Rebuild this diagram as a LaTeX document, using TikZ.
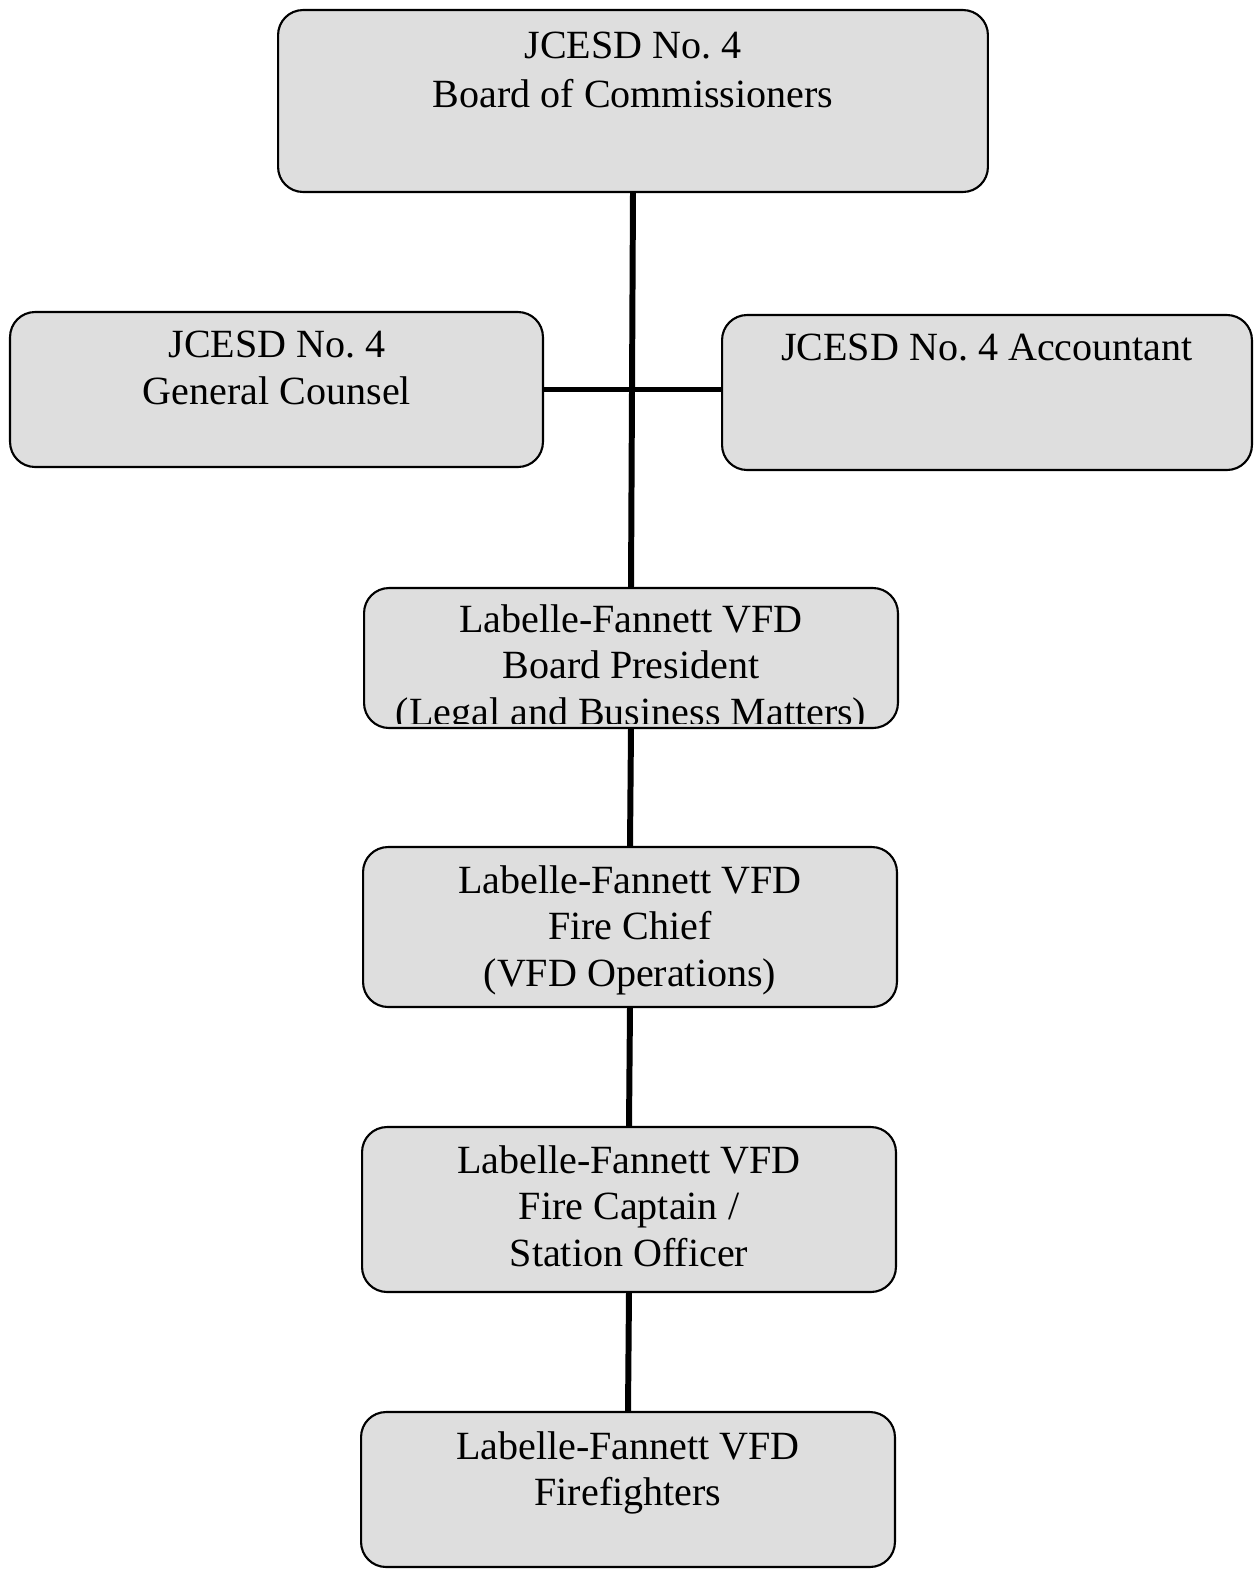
\documentclass[tikz,border=0pt]{standalone}
\usepackage{fontspec}
\setmainfont{Liberation Serif}
\frenchspacing

\tikzset{
  orgbox/.style={draw=black, line width=1.2pt, fill=black!13, rounded corners=0.5cm,
    inner sep=0pt, outer sep=0pt},
  orgtext/.style={align=center, inner sep=0pt, anchor=north,
    font=\fontsize{22.8}{26.6}\selectfont},
  link/.style={line width=3.4pt}
}

\begin{document}
\begin{tikzpicture}[x=0.02cm, y=-0.02cm]

    \useasboundingbox (0,0) rectangle (1258,1570);

    \node[orgbox, minimum width=14.2cm, minimum height=3.64cm] (board) at (633,101) {};
    \node[orgbox, minimum width=10.66cm, minimum height=3.1cm] (counsel) at (276.5,389.5) {};
    \node[orgbox, minimum width=10.6cm, minimum height=3.1cm] (accountant) at (987,392.5) {};
    \node[orgbox, minimum width=10.68cm, minimum height=2.8cm] (president) at (631,658) {};
    \node[orgbox, minimum width=10.68cm, minimum height=3.2cm] (chief) at (630,927) {};
    \node[orgbox, minimum width=10.68cm, minimum height=3.3cm] (captain) at (629,1209.5) {};
    \node[orgbox, minimum width=10.68cm, minimum height=3.1cm] (fighters) at (628,1489.5) {};

    \node[orgtext, font=\fontsize{22.8}{27.4}\selectfont] (t-board) at (633,32) {JCESD No. 4\\Board of Commissioners};
    \node[orgtext] (t-counsel) at (277,331) {JCESD No. 4\\General Counsel};
    \node[orgtext] (t-accountant) at (987,334) {JCESD No. 4 Accountant};
    \begin{scope}
      \clip (president.north west) rectangle ([yshift=0.1cm]president.south east);
      \node[orgtext] (t-president) at (631,604) {Labelle-Fannett VFD\\Board President\\(Legal and Business Matters)};
    \end{scope}
    \node[orgtext] (t-chief) at (630,865) {Labelle-Fannett VFD\\Fire Chief\\(VFD Operations)};
    \node[orgtext] (t-captain) at (629,1145) {Labelle-Fannett VFD\\Fire Captain /\\Station Officer};
    \node[orgtext] (t-fighters) at (628,1431) {Labelle-Fannett VFD\\Firefighters};

    \draw[link] (board.south) -- (president.north);
    \draw[link] (counsel.east) -- (counsel.east -| accountant.west);
    \draw[link] (president.south) -- (chief.north);
    \draw[link] (chief.south) -- (captain.north);
    \draw[link] (captain.south) -- (fighters.north);

\end{tikzpicture}
\end{document}
